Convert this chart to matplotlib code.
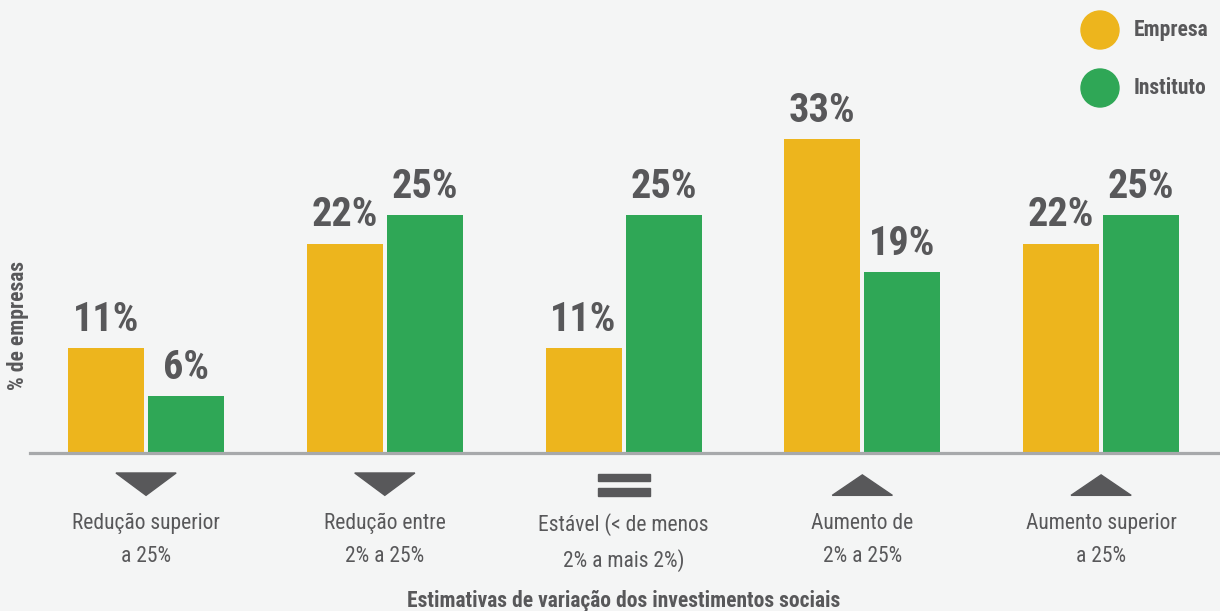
import matplotlib
matplotlib.use("Agg")
import matplotlib.pyplot as plt
from matplotlib.patches import Polygon, Rectangle, Ellipse
import numpy as np

categories = ["Redução superior\na 25%", "Redução entre\n2% a 25%", "Estável (< de menos\n2% a mais 2%)",
              "Aumento de\n2% a 25%", "Aumento superior\na 25%"]
empresa = [11, 22, 11, 33, 22]
instituto = [6, 25, 25, 19, 25]
icons = ["down", "down", "equal", "up", "up"]
series_names = ["Empresa", "Instituto"]

YEL = "#EDB51D"
GRN = "#2FA756"
TXT = "#58585A"
BG = "#F4F5F5"
LINE = "#A7A9AB"

FAM = ["Roboto Condensed", "DejaVu Sans"]
STR = "condensed"

fig = plt.figure(figsize=(12.2, 6.11), dpi=100, facecolor=BG)
ax = fig.add_axes([30/1220, 1 - 453/611, 1 - 30/1220, 453/611])
ax.set_facecolor(BG)
ax.set_xlim(-0.486, 4.498)
ax.set_ylim(0, 47.6)
for s in ax.spines.values():
    s.set_visible(False)
ax.set_xticks([])
ax.set_yticks([])

x = np.arange(len(categories))
w = 0.318
off = 0.1675
b1 = ax.bar(x - off, empresa, w, color=YEL, zorder=2)
b2 = ax.bar(x + off, instituto, w, color=GRN, zorder=2)
ax.axhline(0, color=LINE, lw=2.3, zorder=3, clip_on=False)

for bars, vals in ((b1, empresa), (b2, instituto)):
    for r, v in zip(bars, vals):
        ax.annotate(f"{v}%", (r.get_x() + r.get_width()/2, r.get_height()),
                    xytext=(0, 12.5), textcoords="offset points", ha="center", va="baseline",
                    fontsize=29, fontweight="bold", color=TXT, family=FAM, fontstretch=STR)

tw = 0.126
for xi, ic in zip(x, icons):
    if ic == "down":
        ax.add_patch(Polygon([[xi - tw, -2.1], [xi + tw, -2.1], [xi, -4.45]], closed=True, color=TXT, clip_on=False))
    elif ic == "up":
        ax.add_patch(Polygon([[xi - tw, -4.45], [xi + tw, -4.45], [xi, -2.3]], closed=True, color=TXT, clip_on=False))
    else:
        hw = 0.109
        ax.add_patch(Rectangle((xi - hw, -2.95), 2*hw, 0.78, color=TXT, clip_on=False))
        ax.add_patch(Rectangle((xi - hw, -4.5), 2*hw, 0.78, color=TXT, clip_on=False))
    ax.text(xi, -6.3, categories[xi], ha="center", va="top", fontsize=15.5, color=TXT,
            family=FAM, fontstretch=STR, linespacing=1.75)

fig.text(624/1220, 1 - 601/611, "Estimativas de variação dos investimentos sociais", ha="center", va="center",
         fontsize=15.5, fontweight="bold", color=TXT, family=FAM, fontstretch=STR)
fig.text(18/1220, 1 - 326/611, "% de empresas", rotation=90, ha="center", va="center",
         fontsize=15.5, fontweight="bold", color=TXT, family=FAM, fontstretch=STR)

for i, (name, col) in enumerate(zip(series_names, [YEL, GRN])):
    cy = 1 - (30 + 58*i)/611
    fig.add_artist(Ellipse((1100/1220, cy), 38/1220, 38/611, transform=fig.transFigure, color=col))
    fig.text(1134/1220, cy, name, ha="left", va="center", fontsize=15.5, fontweight="bold",
             color=TXT, family=FAM, fontstretch=STR)

fig.savefig("out.png", dpi=100, facecolor=BG)
